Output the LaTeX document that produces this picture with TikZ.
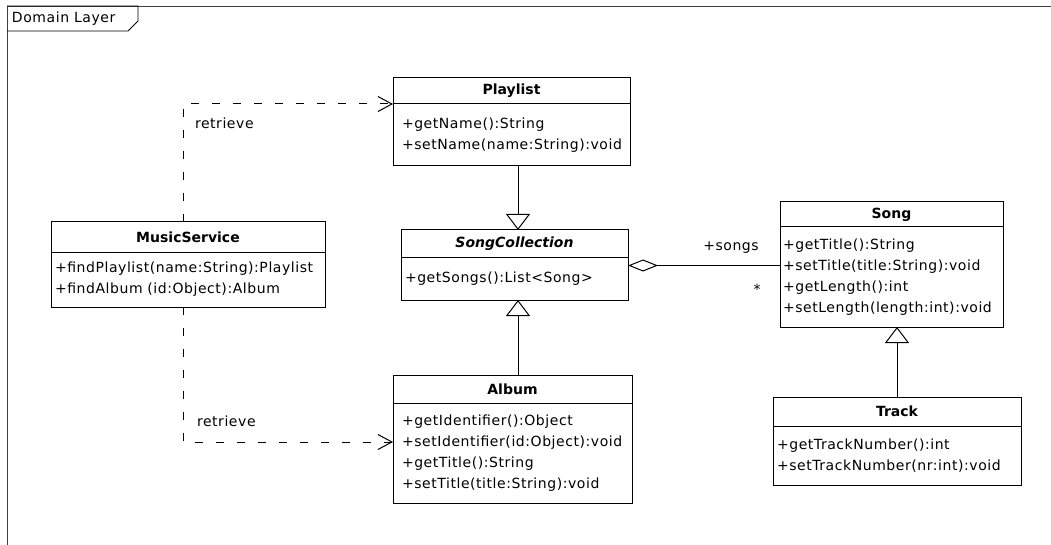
\documentclass[tikz,border=0pt]{standalone}
\usepackage{fontspec}
\setmainfont[LetterSpace=4]{DejaVu Sans}
\newfontfamily\hdfont{DejaVu Sans}
\usetikzlibrary{arrows.meta}
\tikzset{
  every node/.style={outer sep=0pt},
  head/.style={draw, line width=1pt, anchor=north west, inner sep=0pt,
    font=\hdfont\bfseries\fontsize{14}{17}\selectfont},
  body/.style={draw, line width=1pt, anchor=north west, inner ysep=0pt, align=left,
    font=\fontsize{14}{21}\selectfont},
  gen/.style={line width=1pt, -{Triangle[open, length=16pt, width=24pt, fill=white]}},
  dep/.style={line width=1pt, dash pattern=on 8pt off 13pt,
    -{Straight Barb[length=14pt, width=15pt]}},
  agg/.style={line width=1pt, {Diamond[open, length=30pt, width=12pt, fill=white]}-},
  lbl/.style={font=\fontsize{14}{17}\selectfont, inner sep=0pt},
}
\begin{document}
\begin{tikzpicture}[x=1pt,y=-1pt]
\useasboundingbox (0,0) rectangle (1051,545);
% frame
\draw[line width=0.9pt, black!75] (7,548) -- (7,6) -- (1054,6);
\draw[line width=0.9pt] (7,6) -- (138,6) -- (138,21) -- (128,31) -- (7,31);
\node[lbl, anchor=west] (frm) at (12,19) {Domain Layer};

% Playlist
\node[head, minimum width=237, minimum height=26] (pl) at (393,78) {Playlist};
\node[body, minimum width=237, minimum height=62, inner xsep=9pt, text width=219pt] (plb) at (393,104)
  {+getName():String\\+setName(name:String):void};

% SongCollection
\node[head, minimum width=227, minimum height=27, font=\hdfont\bfseries\itshape\fontsize{14}{17}\selectfont] (sc) at (401,230) {SongCollection};
\node[body, minimum width=227, minimum height=43, inner xsep=4pt, text width=219pt] (scb) at (401,257)
  {+getSongs():List<Song>};

% MusicService
\node[head, minimum width=274, minimum height=30] (ms) at (51,222) {MusicService};
\node[body, minimum width=274, minimum height=55, inner xsep=4pt, text width=266pt] (msb) at (51,252)
  {+findPlaylist(name:String):Playlist\\+findAlbum (id:Object):Album};

% Song
\node[head, minimum width=223, minimum height=25] (song) at (780,202) {Song};
\node[body, minimum width=223, minimum height=100, inner xsep=3pt, text width=217pt] (songb) at (780,227)
  {+getTitle():String\\+setTitle(title:String):void\\+getLength():int\\+setLength(length:int):void};

% Album
\node[head, minimum width=239, minimum height=28] (al) at (393,375) {Album};
\node[body, minimum width=239, minimum height=100, inner xsep=9pt, text width=221pt] (alb) at (393,403)
  {+getIdentifier():Object\\+setIdentifier(id:Object):void\\+getTitle():String\\+setTitle(title:String):void};

% Track
\node[head, minimum width=248, minimum height=29] (tr) at (773,397) {Track};
\node[body, minimum width=248, minimum height=59, inner xsep=4pt, text width=240pt] (trb) at (773,426)
  {+getTrackNumber():int\\+setTrackNumber(nr:int):void};

% generalizations
\coordinate (g1) at ([xshift=3.5pt]sc.north);
\draw[gen] (plb.south -| g1) -- (g1);
\coordinate (g2) at ([xshift=3.5pt]scb.south);
\draw[gen] (al.north -| g2) -- (g2);
\draw[gen] (tr.north) -- (tr.north |- songb.south);

% aggregation
\coordinate (a1) at ([yshift=13pt]scb.east);
\draw[agg] (a1) -- (a1 -| songb.west);
\node[lbl] (role) at (731,248) {+songs};
\node[lbl] (mult) at (757,289) {*};

% dependencies
\coordinate (d1) at ([xshift=-5pt]ms.north);
\draw[dep] (d1) |- (pl.south west);
\coordinate (d2) at ([xshift=-5pt]msb.south);
\draw[dep] (d2) |- ([yshift=11pt]alb.west);
\node[lbl, anchor=west] (r1) at (195,123) {retrieve};
\node[lbl, anchor=west] (r2) at (197,421) {retrieve};
\end{tikzpicture}
\end{document}
